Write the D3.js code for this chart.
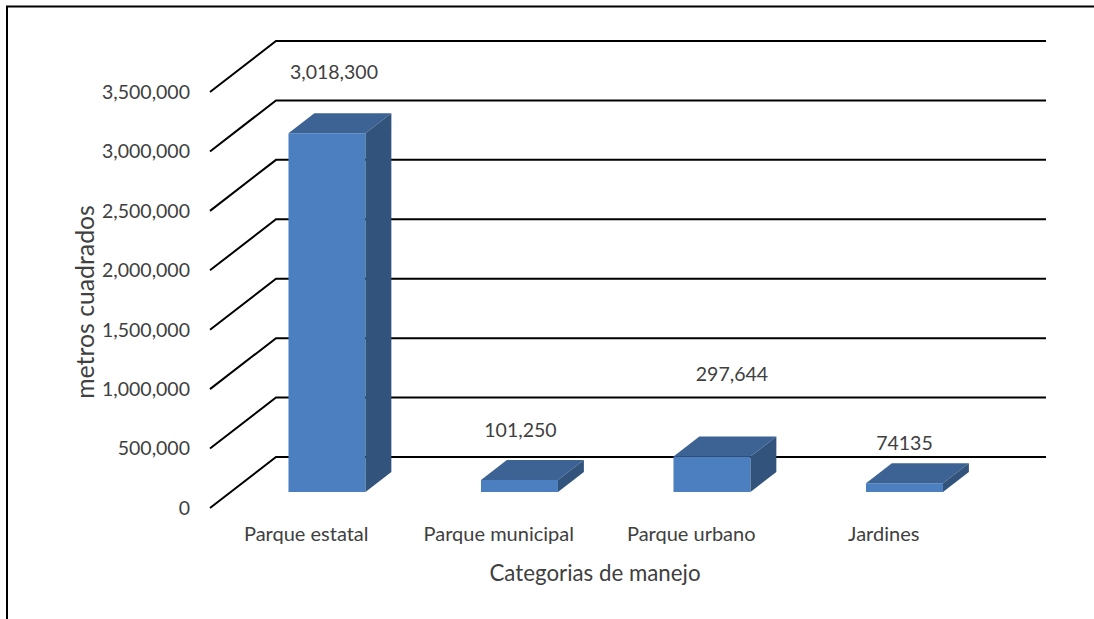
<!DOCTYPE html>
<html>
<head>
<meta charset="utf-8">
<script src="https://cdn.jsdelivr.net/npm/d3@7/dist/d3.min.js"></script>
<style>
  html, body { margin: 0; padding: 0; background: #fff; }
  svg { display: block; }
  text { font-family: Lato, "Open Sans", sans-serif; fill: #404040; }
</style>
</head>
<body>
<svg id="chart" width="1094" height="619"></svg>
<script>
// Superficie por categoría de manejo (m²)
const categories = ["Parque estatal", "Parque municipal", "Parque urbano", "Jardines"];
const values = [3018300, 101250, 297644, 74135];
const valueLabels = ["3,018,300", "101,250", "297,644", "74135"];
const yTicks = [0, 500000, 1000000, 1500000, 2000000, 2500000, 3000000, 3500000];

// label nudges relative to bar front top (px)
const labelDx = [7, 1, 20, 0];
const labelDy = [-61, -50, -82, -40];

const svg = d3.select("#chart");

// Oblique projection: front floor corner, depth vector of the box
const x0 = 210, x1 = 980, yFloor = 508;
const depthX = 66, depthY = -51;
const barFront = 0.314, barBack = 0.706;

const x = d3.scaleBand().domain(categories).range([x0, x1])
  .paddingInner(0.6).paddingOuter(0.3);
const xCat = d3.scaleBand().domain(categories).range([x0, x1]);
const y = d3.scaleLinear().domain([0, 3500000]).range([yFloor, yFloor - 416]);

const P = (px, v, d) => [px + d * depthX, y(v) + d * depthY];

// chart frame
svg.append("path")
  .attr("d", "M7,619 L7,6.5 L1094,6.5")
  .attr("fill", "none").attr("stroke", "#000").attr("stroke-width", 2);

// walls: side wall diagonals + back wall gridlines
const grid = svg.append("g").attr("fill", "none").attr("stroke", "#000").attr("stroke-width", 2);
yTicks.forEach(t => {
  const a = P(x0, t, 0), b = P(x0, t, 1), c = P(x1, t, 1);
  grid.append("path").attr("d", `M${a[0]},${a[1]} L${b[0]},${b[1]} L${c[0]},${c[1]}`);
});

// value axis labels
svg.append("g").selectAll("text").data(yTicks).join("text")
  .attr("x", x0 - 20).attr("y", d => y(d))
  .attr("dy", "0.35em").attr("text-anchor", "end")
  .style("font-size", "19.5px")
  .text(d => d3.format(",")(d));

// bars
const bars = svg.append("g");
categories.forEach((c, i) => {
  const v = values[i];
  const xl = x(c), xr = x(c) + x.bandwidth();
  const pt = (px, val, d) => P(px, val, d).join(",");
  const g = bars.append("g");
  // front face
  g.append("polygon")
    .attr("points", [pt(xl, 0, barFront), pt(xr, 0, barFront), pt(xr, v, barFront), pt(xl, v, barFront)].join(" "))
    .attr("fill", "#4b7fbf");
  // top face
  g.append("polygon")
    .attr("points", [pt(xl, v, barFront), pt(xr, v, barFront), pt(xr, v, barBack), pt(xl, v, barBack)].join(" "))
    .attr("fill", "#3c6393");
  // side face
  g.append("polygon")
    .attr("points", [pt(xr, 0, barFront), pt(xr, 0, barBack), pt(xr, v, barBack), pt(xr, v, barFront)].join(" "))
    .attr("fill", "#31537c");
});

// value labels
svg.append("g").selectAll("text").data(categories).join("text")
  .attr("x", (c, i) => P(x(c) + x.bandwidth() / 2, values[i], barFront)[0] + labelDx[i])
  .attr("y", (c, i) => P(x(c), values[i], barFront)[1] + labelDy[i])
  .attr("dy", "0.35em").attr("text-anchor", "middle")
  .style("font-size", "19.5px")
  .text((c, i) => valueLabels[i]);

// category labels
svg.append("g").selectAll("text").data(categories).join("text")
  .attr("x", c => xCat(c) + xCat.bandwidth() / 2)
  .attr("y", 534).attr("dy", "0.35em").attr("text-anchor", "middle")
  .style("font-size", "20px")
  .text(c => c);

// axis titles
svg.append("text")
  .attr("x", 595).attr("y", 573).attr("dy", "0.35em").attr("text-anchor", "middle")
  .style("font-size", "22.3px")
  .text("Categorias de manejo");

svg.append("text")
  .attr("transform", "translate(85,302) rotate(-90)")
  .attr("dy", "0.35em").attr("text-anchor", "middle")
  .style("font-size", "24.8px")
  .text("metros cuadrados");
</script>
</body>
</html>
